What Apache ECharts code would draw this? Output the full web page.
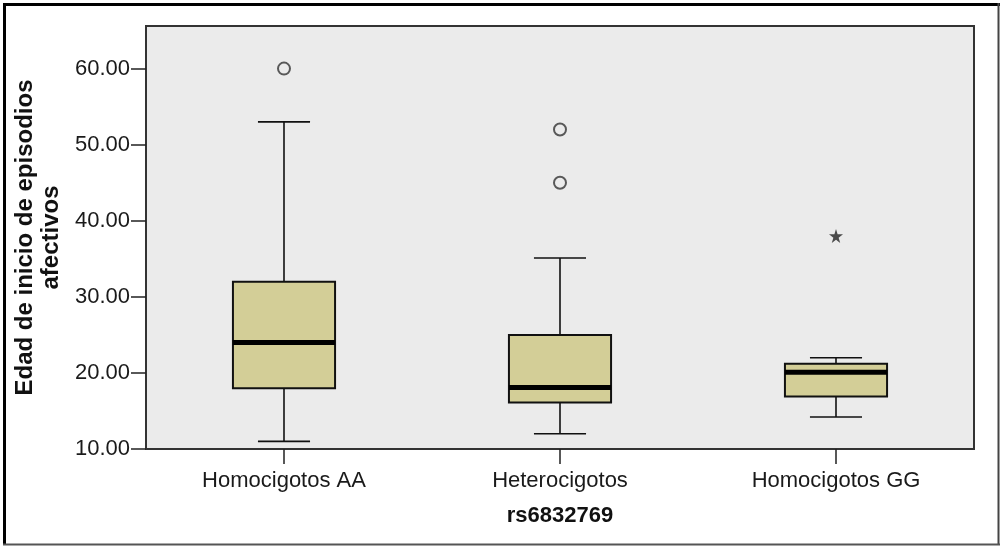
<!DOCTYPE html>
<html>
<head>
<meta charset="utf-8">
<script src="https://cdn.jsdelivr.net/npm/echarts@6/dist/echarts.min.js"></script>
<style>
html,body{margin:0;padding:0;background:#fff;}
#chart{width:1000px;height:546px;}
</style>
</head>
<body>
<div id="chart"></div>
<script>
var categories = ['Homocigotos AA', 'Heterocigotos', 'Homocigotos GG'];
var whiskerLow = [11, 12, 14.2];
var q1 = [18, 16.1, 16.9];
var median = [24, 18.1, 20.1];
var q3 = [32, 25, 21.2];
var whiskerHigh = [53, 35.1, 22];
var outlierPoints = [[0, 60], [1, 52], [1, 45]];
var extremePoints = [[2, 38]];
var yTicks = [10, 20, 30, 40, 50, 60];
var xTitle = 'rs6832769';
var yTitle = 'Edad de inicio de episodios\nafectivos';

var boxData = categories.map(function (c, i) {
  return [i, whiskerLow[i], q1[i], median[i], q3[i], whiskerHigh[i]];
});

var starPath = 'path://M50,0 L61,35 L98,35 L68,57 L79,91 L50,70 L21,91 L32,57 L2,35 L39,35 Z';

var chart = echarts.init(document.getElementById('chart'), null, {renderer: 'canvas'});

var fontFam = 'Arial, "Liberation Sans", Helvetica, sans-serif';

var option = {
  animation: false,
  backgroundColor: '#ffffff',
  grid: {
    left: 146, right: 26, top: 26, bottom: 97,
    show: true,
    backgroundColor: '#EBEBEB',
    borderColor: '#333333',
    borderWidth: 2
  },
  xAxis: {
    type: 'category',
    data: categories,
    boundaryGap: true,
    name: xTitle,
    nameLocation: 'middle',
    nameGap: 56,
    nameTextStyle: {fontFamily: fontFam, fontSize: 22, fontWeight: 'bold', color: '#111'},
    axisLine: {show: true, lineStyle: {color: '#333', width: 2}},
    axisTick: {show: true, alignWithLabel: true, length: 15, lineStyle: {color: '#222', width: 1.5}},
    axisLabel: {fontFamily: fontFam, fontSize: 22, color: '#1a1a1a', margin: 21},
    splitLine: {show: false}
  },
  yAxis: {
    type: 'value',
    min: 10,
    max: 65.6,
    interval: 10,
    name: yTitle,
    nameLocation: 'middle',
    nameRotate: 90,
    nameGap: 79,
    nameTextStyle: {fontFamily: fontFam, fontSize: 24, fontWeight: 'bold', color: '#111', lineHeight: 26, align: 'center'},
    axisLine: {show: true, lineStyle: {color: '#333', width: 2}},
    axisTick: {show: true, length: 15, lineStyle: {color: '#222', width: 1.5}, customValues: yTicks},
    axisLabel: {fontFamily: fontFam, fontSize: 22, color: '#1a1a1a', margin: 16, customValues: yTicks,
      formatter: function (v) { return v.toFixed(2); }},
    splitLine: {show: false}
  },
  graphic: [
    {type: 'line', shape: {x1: 4.5, y1: 3, x2: 4.5, y2: 545}, style: {stroke: '#000', lineWidth: 3}, z: 100},
    {type: 'line', shape: {x1: 3, y1: 4.5, x2: 1000, y2: 4.5}, style: {stroke: '#000', lineWidth: 3}, z: 100},
    {type: 'line', shape: {x1: 998.5, y1: 3, x2: 998.5, y2: 545}, style: {stroke: '#444', lineWidth: 2}, z: 100},
    {type: 'line', shape: {x1: 3, y1: 544.5, x2: 1000, y2: 544.5}, style: {stroke: '#555', lineWidth: 2}, z: 100}
  ],
  series: [
    {
      type: 'custom',
      data: boxData,
      encode: {x: 0, y: [1, 2, 3, 4, 5]},
      renderItem: function (params, api) {
        var xi = api.value(0);
        var pLow = api.coord([xi, api.value(1)]);
        var pQ1 = api.coord([xi, api.value(2)]);
        var pMed = api.coord([xi, api.value(3)]);
        var pQ3 = api.coord([xi, api.value(4)]);
        var pHigh = api.coord([xi, api.value(5)]);
        var band = api.size([1, 0])[0];
        var bw = band * 0.37;
        var cw = bw * 0.51;
        var cx = pLow[0];
        var lineStyle = {stroke: '#111', lineWidth: 1.6, fill: null};
        return {
          type: 'group',
          children: [
            {type: 'line', shape: {x1: cx, y1: pHigh[1], x2: cx, y2: pQ3[1]}, style: lineStyle},
            {type: 'line', shape: {x1: cx, y1: pLow[1], x2: cx, y2: pQ1[1]}, style: lineStyle},
            {type: 'line', shape: {x1: cx - cw / 2, y1: pHigh[1], x2: cx + cw / 2, y2: pHigh[1]}, style: lineStyle},
            {type: 'line', shape: {x1: cx - cw / 2, y1: pLow[1], x2: cx + cw / 2, y2: pLow[1]}, style: lineStyle},
            {type: 'rect', shape: {x: cx - bw / 2, y: pQ3[1], width: bw, height: pQ1[1] - pQ3[1]},
              style: {fill: '#D3CE97', stroke: '#111', lineWidth: 2}},
            {type: 'line', shape: {x1: cx - bw / 2, y1: pMed[1], x2: cx + bw / 2, y2: pMed[1]},
              style: {stroke: '#000', lineWidth: 5}}
          ]
        };
      },
      z: 3
    },
    {
      type: 'scatter',
      data: outlierPoints,
      symbol: 'circle',
      symbolSize: 12,
      itemStyle: {color: 'rgba(0,0,0,0)', borderColor: '#333', borderWidth: 2},
      z: 4
    },
    {
      type: 'scatter',
      data: extremePoints,
      symbol: starPath,
      symbolSize: 14,
      itemStyle: {color: '#222'},
      z: 4
    }
  ]
};
chart.setOption(option);
</script>
</body>
</html>
